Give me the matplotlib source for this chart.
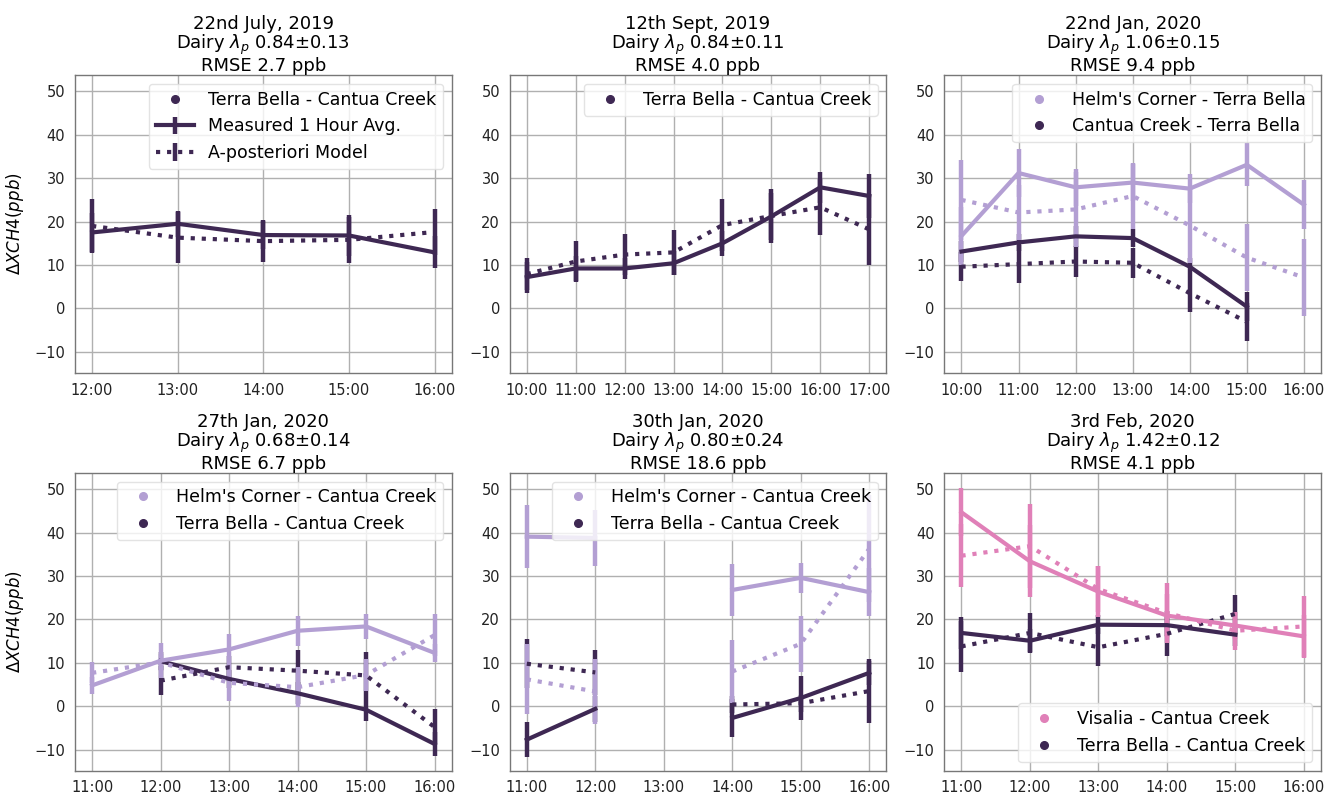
import numpy as np
import matplotlib
matplotlib.use("Agg")
import matplotlib.pyplot as plt
from matplotlib.lines import Line2D

nan = np.nan

# ---------------- data ----------------
titles = ["22nd July, 2019", "12th Sept, 2019", "22nd Jan, 2020",
          "27th Jan, 2020", "30th Jan, 2020", "3rd Feb, 2020"]
lambdas = ["0.84±0.13", "0.84±0.11", "1.06±0.15", "0.68±0.14", "0.80±0.24", "1.42±0.12"]
rmses = ["2.7", "4.0", "9.4", "6.7", "18.6", "4.1"]

# Panel 1 (22 July 2019)
hours1 = [12, 13, 14, 15, 16]
ticks1 = ["12:00", "13:00", "14:00", "15:00", "16:00"]
p1_tb_meas = [17.5, 19.5, 16.9, 16.8, 12.9]
p1_tb_meas_err = [4.4, 3.0, 3.3, 4.7, 3.7]
p1_tb_model = [19.0, 16.3, 15.5, 15.8, 17.6]
p1_tb_model_err = [6.2, 5.9, 4.8, 5.3, 5.4]

# Panel 2 (12 Sept 2019)
hours2 = [10, 11, 12, 13, 14, 15, 16, 17]
ticks2 = ["10:00", "11:00", "12:00", "13:00", "14:00", "15:00", "16:00", "17:00"]
p2_tb_meas = [7.2, 9.2, 9.2, 10.4, 15.0, 21.2, 27.9, 25.9]
p2_tb_meas_err = [3.6, 2.8, 2.4, 2.8, 2.9, 5.5, 3.5, 5.0]
p2_tb_model = [7.9, 10.8, 12.4, 12.9, 19.2, 21.3, 23.3, 18.2]
p2_tb_model_err = [3.6, 4.8, 4.8, 5.2, 6.0, 6.2, 6.5, 8.2]

# Panel 3 (22 Jan 2020)
hours3 = [10, 11, 12, 13, 14, 15, 16]
ticks3 = ["10:00", "11:00", "12:00", "13:00", "14:00", "15:00", "16:00"]
p3_hc_meas = [16.7, 31.2, 27.9, 29.0, 27.6, 33.1, 23.9]
p3_hc_meas_err = [6.7, 5.5, 4.3, 4.3, 3.4, 5.0, 5.7]
p3_hc_model = [25.0, 22.1, 22.8, 25.9, 19.1, 11.7, 7.1]
p3_hc_model_err = [9.2, 6.3, 8.6, 7.7, 8.7, 7.8, 8.8]
p3_cc_meas = [13.1, 15.2, 16.6, 16.2, 9.6, 0.4, nan]
p3_cc_meas_err = [2.5, 2.0, 2.5, 2.0, 1.9, 3.4, nan]
p3_cc_model = [9.6, 10.2, 10.8, 10.5, 3.5, -3.1, nan]
p3_cc_model_err = [3.4, 4.4, 3.6, 3.4, 4.3, 4.4, nan]

# Panel 4 (27 Jan 2020)
hours4 = [11, 12, 13, 14, 15, 16]
ticks4 = ["11:00", "12:00", "13:00", "14:00", "15:00", "16:00"]
p4_hc_meas = [4.8, 10.5, 13.1, 17.4, 18.4, 12.3]
p4_hc_meas_err = [2.0, 4.1, 3.6, 3.5, 2.9, 2.1]
p4_hc_model = [7.7, 10.1, 5.4, 4.4, 7.2, 16.4]
p4_hc_model_err = [2.4, 2.0, 4.1, 4.6, 3.6, 4.9]
p4_tb_meas = [nan, 10.4, 6.3, 3.0, -0.8, -8.7]
p4_tb_meas_err = [nan, 2.0, 2.0, 2.5, 2.5, 2.7]
p4_tb_model = [nan, 5.9, 9.0, 8.2, 7.1, -4.8]
p4_tb_model_err = [nan, 3.3, 2.5, 4.8, 5.4, 4.2]

# Panel 5 (30 Jan 2020) - no data at 13:00
hours5 = [11, 12, 13, 14, 15, 16]
ticks5 = ["11:00", "12:00", "13:00", "14:00", "15:00", "16:00"]
p5_hc_meas = [39.1, 38.8, nan, 26.8, 29.6, 26.3]
p5_hc_meas_err = [7.2, 6.4, nan, 6.0, 3.4, 5.6]
p5_hc_model = [6.2, 3.4, nan, 8.0, 14.4, 36.3]
p5_hc_model_err = [8.1, 7.5, nan, 7.3, 6.4, 12.3]
p5_tb_meas = [-7.7, -0.6, nan, -2.7, 1.9, 7.7]
p5_tb_meas_err = [4.05, 3.0, nan, 4.3, 5.0, 2.8]
p5_tb_model = [9.8, 7.8, nan, 0.4, 0.7, 3.5]
p5_tb_model_err = [5.6, 5.2, nan, 2.0, 2.0, 7.3]

# Panel 6 (3 Feb 2020)
hours6 = [11, 12, 13, 14, 15, 16]
ticks6 = ["11:00", "12:00", "13:00", "14:00", "15:00", "16:00"]
p6_vi_meas = [44.7, 33.4, 26.4, 20.9, 18.6, 16.1]
p6_vi_meas_err = [5.5, 8.3, 5.9, 5.0, 3.2, 5.0]
p6_vi_model = [34.7, 36.9, 27.0, 21.5, 17.4, 18.4]
p6_vi_model_err = [7.3, 9.7, 5.3, 6.9, 4.4, 7.1]
p6_tb_meas = [16.9, 15.1, 18.8, 18.7, 16.5, nan]
p6_tb_meas_err = [3.6, 2.7, 2.2, 2.5, 2.5, nan]
p6_tb_model = [13.8, 16.9, 13.6, 16.7, 21.3, nan]
p6_tb_model_err = [5.8, 4.6, 4.4, 5.2, 4.4, nan]

# ---------------- style ----------------
DARK = "#3e2853"
LIGHT = "#b39fd3"
PINK = "#e080b8"

panels = [
    dict(x=hours1, ticks=ticks1, loc="upper right",
         series=[("Terra Bella - Cantua Creek", DARK, p1_tb_meas, p1_tb_meas_err, p1_tb_model, p1_tb_model_err)]),
    dict(x=hours2, ticks=ticks2, loc="upper right",
         series=[("Terra Bella - Cantua Creek", DARK, p2_tb_meas, p2_tb_meas_err, p2_tb_model, p2_tb_model_err)]),
    dict(x=hours3, ticks=ticks3, loc="upper right",
         series=[("Helm's Corner - Terra Bella", LIGHT, p3_hc_meas, p3_hc_meas_err, p3_hc_model, p3_hc_model_err),
                 ("Cantua Creek - Terra Bella", DARK, p3_cc_meas, p3_cc_meas_err, p3_cc_model, p3_cc_model_err)]),
    dict(x=hours4, ticks=ticks4, loc="upper right",
         series=[("Helm's Corner - Cantua Creek", LIGHT, p4_hc_meas, p4_hc_meas_err, p4_hc_model, p4_hc_model_err),
                 ("Terra Bella - Cantua Creek", DARK, p4_tb_meas, p4_tb_meas_err, p4_tb_model, p4_tb_model_err)]),
    dict(x=hours5, ticks=ticks5, loc="upper right",
         series=[("Helm's Corner - Cantua Creek", LIGHT, p5_hc_meas, p5_hc_meas_err, p5_hc_model, p5_hc_model_err),
                 ("Terra Bella - Cantua Creek", DARK, p5_tb_meas, p5_tb_meas_err, p5_tb_model, p5_tb_model_err)]),
    dict(x=hours6, ticks=ticks6, loc="lower right",
         series=[("Visalia - Cantua Creek", PINK, p6_vi_meas, p6_vi_meas_err, p6_vi_model, p6_vi_model_err),
                 ("Terra Bella - Cantua Creek", DARK, p6_tb_meas, p6_tb_meas_err, p6_tb_model, p6_tb_model_err)]),
]

plt.rcParams['font.family'] = ['DejaVu Sans']
fig, axes = plt.subplots(2, 3, figsize=(13.25, 7.95), dpi=100)
fig.subplots_adjust(left=0.0566, right=0.997, bottom=0.0306, top=0.9057,
                    wspace=0.154, hspace=0.336)

for i, (ax, p) in enumerate(zip(axes.flat, panels)):
    x = np.array(p["x"], dtype=float)
    handles = []
    meas_h = model_h = None
    # draw the dark pair first, lighter pair on top
    for (label, c, m, me, mo, moe) in reversed(p["series"]):
        mo_h = ax.errorbar(x, mo, yerr=moe, color=c, lw=3, ls=":", elinewidth=3.2,
                           capsize=0, dash_capstyle="butt")
        me_h = ax.errorbar(x, m, yerr=me, color=c, lw=3, ls="-", elinewidth=3.2, capsize=0)
        if meas_h is None:
            meas_h, model_h = me_h, mo_h
    for (label, c, *_rest) in p["series"]:
        handles.append(Line2D([], [], marker="o", ls="none", color=c, markersize=5.5, label=label))
    labels = [h.get_label() for h in handles]
    if i == 0:
        handles += [meas_h, model_h]
        labels += ["Measured 1 Hour Avg.", "A-posteriori Model"]
    ax.legend(handles, labels, loc=p["loc"], fontsize=12.5, framealpha=0.8,
              edgecolor="#dddddd", fancybox=True, handlelength=2.2)

    ax.set_xticks(x)
    ax.set_xticklabels(p["ticks"])
    ax.set_yticks([-10, 0, 10, 20, 30, 40, 50])
    ax.set_ylim(-14.85, 53.8)
    ax.margins(x=0.05)
    ax.grid(True, color="#b0b0b0", lw=1)
    ax.set_axisbelow(True)
    ax.tick_params(length=0, pad=7, labelsize=10.5, colors="#222222")
    for s in ax.spines.values():
        s.set_color("#777777")
        s.set_linewidth(1)
    ax.set_title(f"{titles[i]}\nDairy $\\lambda_p$ {lambdas[i]}\nRMSE {rmses[i]} ppb",
                 fontsize=13, pad=2, linespacing=1.0)
    if i % 3 == 0:
        ax.set_ylabel(r"$\Delta XCH4(ppb)$", fontsize=12, labelpad=6)

fig.savefig("out.png", dpi=100)
